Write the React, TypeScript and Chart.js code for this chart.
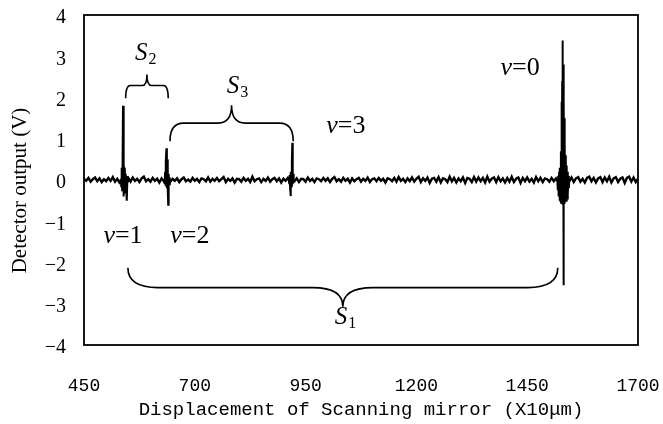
import React, { useEffect, useRef } from "react";
import { Chart, registerables } from "chart.js";

Chart.register(...registerables);

// ---------- data ----------
const xMin = 450;
const xMax = 1700;
const xStep = 250;
const yMin = -4;
const yMax = 4;
const yStep = 1;

// baseline noise (V), sampled every 5 units from 450 to 1700
const noiseStart = 450;
const noiseStep = 5;
const noiseValues = [
  0.03, -0.02, 0.05, -0.04, 0.02, 0.06, -0.03, 0.04, -0.05, 0.02,
  -0.03, 0.05, -0.02, 0.07, -0.04, 0.03, -0.06, 0.02, 0.04, -0.03,
  0.05, -0.04, 0.06, -0.02, 0.03, -0.05, 0.04, 0.08, -0.03, 0.02,
  -0.04, 0.05, -0.02, 0.03, -0.06, 0.04, -0.03, 0.02, 0.05, -0.04,
  0.03, -0.02, 0.04, -0.05, 0.02, 0.06, -0.03, 0.01, -0.04, 0.05,
  -0.02, 0.03, -0.05, 0.04, 0.02, -0.03, 0.06, -0.04, 0.03, -0.02,
  0.05, -0.03, 0.02, 0.07, -0.05, 0.03, -0.02, 0.04, -0.06, 0.03,
  0.02, -0.04, 0.05, -0.02, 0.03, -0.05, 0.08, -0.03, 0.02, 0.04,
  -0.05, 0.03, -0.02, 0.06, -0.04, 0.02, 0.05, -0.03, 0.04, -0.06,
  0.03, -0.02, 0.05, -0.04, 0.02, -0.03, 0.04, -0.05, 0.03, 0.02,
  -0.04, 0.06, -0.02, 0.03, -0.05, 0.04, 0.02, -0.03, 0.05, -0.02,
  0.04, -0.05, 0.03, 0.07, -0.03, 0.02, -0.04, 0.05, -0.02, 0.03,
  -0.06, 0.04, -0.03, 0.02, 0.05, -0.04, 0.03, -0.02, 0.06, -0.05,
  0.02, 0.04, -0.03, 0.05, -0.02, 0.03, -0.06, 0.04, 0.02, -0.03,
  0.05, -0.04, 0.07, -0.02, 0.03, -0.05, 0.04, -0.03, 0.06, -0.04,
  0.03, 0.08, -0.05, 0.04, -0.02, 0.06, -0.07, 0.03, 0.05, -0.04,
  0.07, -0.06, 0.04, 0.02, -0.05, 0.08, -0.03, 0.05, -0.06, 0.04,
  -0.03, 0.06, -0.07, 0.05, 0.03, -0.05, 0.07, -0.04, 0.06, -0.03,
  0.05, -0.06, 0.08, -0.04, 0.03, 0.06, -0.05, 0.07, -0.03, 0.04,
  -0.06, 0.05, -0.04, 0.08, -0.05, 0.03, 0.06, -0.07, 0.05, -0.03,
  0.06, -0.04, 0.03, -0.06, 0.07, -0.03, 0.05, -0.05, 0.04, 0.02,
  -0.04, 0.05, -0.03, 0.04, -0.05, 0.06, 0.0, 0.0, 0.0, -0.03,
  0.06, -0.05, 0.04, 0.07, -0.04, 0.03, -0.06, 0.05, 0.08, -0.03,
  0.05, -0.06, 0.04, 0.07, -0.05, 0.06, -0.03, 0.08, -0.06, 0.04,
  0.07, -0.05, 0.03, 0.06, -0.07, 0.05, 0.08, -0.04, 0.06, -0.05,
  0.03,
];

// v=1 interference burst
const spike1X = [533, 534, 535, 536, 537, 538, 539, 540, 541, 542, 543, 544, 545, 546, 547, 548, 549, 550];
const spike1Y = [0.02, -0.15, 0.3, -0.25, 0.4, 1.8, -0.4, 0.4, -0.3, 0.3, -0.2, 0.15, -0.1, 0.1, -0.5, 0.08, -0.06, 0.02];

// v=2 interference burst
const spike2X = [631, 632, 633, 634, 635, 636, 637, 638, 639, 640, 641, 642, 643, 644];
const spike2Y = [0.02, -0.1, 0.2, -0.15, 0.45, 0.77, -0.2, 0.5, -0.25, -0.6, 0.15, -0.1, 0.06, 0.01];

// v=3 interference burst
const spike3X = [912, 913, 914, 915, 916, 917, 918, 919, 920, 921, 922, 923, 924];
const spike3Y = [0.02, -0.08, 0.12, -0.2, -0.39, 0.2, -0.15, 0.45, 0.9, -0.1, 0.15, -0.05, 0.02];

// v=0 (zero path difference) burst
const spike0X = [
  1518, 1519, 1520, 1521, 1522, 1523, 1524, 1525, 1526,
  1526.5, 1527, 1527.5, 1528, 1528.5, 1529, 1529.5, 1530, 1530.5,
  1531, 1531.5, 1532, 1532.5, 1533, 1533.5, 1534, 1534.5, 1535,
  1536, 1537, 1538, 1539, 1540, 1541, 1542, 1543, 1544, 1545,
];
const spike0Y = [
  0.03, -0.25, 0.1, -0.4, 0.2, -0.5, 0.3, -0.5, 0.7,
  -0.55, 1.3, -0.55, 1.9, -0.5, 2.4, -0.5, 3.38, -0.6,
  2.8, -2.55, 2.5, -0.6, 2.0, -0.55, 1.5, -0.55, 0.9,
  -0.5, 0.6, -0.5, 0.35, -0.45, 0.2, -0.35, 0.1, -0.2, 0.02,
];

// braces: start x, end x, end-y, bar-y, tip-y (data units)
const braceStart = [544, 644, 549];
const braceEnd = [640, 922, 1519];
const braceEndY = [1.98, 0.94, -2.13];
const braceBarY = [2.29, 1.38, -2.61];
const braceTipY = [2.56, 1.81, -3.07];

// labels
const sLabelMain = ["S", "S", "S"];
const sLabelSub = ["2", "3", "1"];
const sLabelX = [588, 795, 1039];
const sLabelY = [3.07, 2.27, -3.33];

const vLabelNum = ["0", "3", "1", "2"];
const vLabelX = [1434, 1041, 538, 689];
const vLabelY = [2.7, 1.3, -1.35, -1.35];

const xTitle = "Displacement of Scanning mirror (X10\u03bcm)";
const yTitle = "Detector output (V)    ";

// ---------- component ----------
const serif = "'Liberation Serif', 'Times New Roman', serif";
const mono = "'Liberation Mono', 'Courier New', monospace";

function toPts(xs: number[], ys: number[]) {
  return xs.map((x, i) => ({ x, y: ys[i] }));
}

const annotationPlugin = {
  id: "annotations",
  afterDraw(chart: any) {
    const { ctx, chartArea, scales } = chart;
    const xs = scales.x;
    const ys = scales.y;
    ctx.save();
    // frame
    ctx.strokeStyle = "#000";
    ctx.lineWidth = 1.8;
    ctx.strokeRect(chartArea.left, chartArea.top, chartArea.right - chartArea.left, chartArea.bottom - chartArea.top);

    // braces
    ctx.lineWidth = 1.6;
    for (let i = 0; i < braceStart.length; i++) {
      const x1 = xs.getPixelForValue(braceStart[i]);
      const x2 = xs.getPixelForValue(braceEnd[i]);
      const yE = ys.getPixelForValue(braceEndY[i]);
      const yB = ys.getPixelForValue(braceBarY[i]);
      const yT = ys.getPixelForValue(braceTipY[i]);
      const xc = (x1 + x2) / 2;
      const r = Math.min(30, (x2 - x1) * 0.11);
      ctx.beginPath();
      ctx.moveTo(x1, yE);
      ctx.quadraticCurveTo(x1, yB, x1 + r, yB);
      ctx.lineTo(xc - r, yB);
      ctx.quadraticCurveTo(xc, yB, xc, yT);
      ctx.quadraticCurveTo(xc, yB, xc + r, yB);
      ctx.lineTo(x2 - r, yB);
      ctx.quadraticCurveTo(x2, yB, x2, yE);
      ctx.stroke();
    }

    // S labels
    ctx.fillStyle = "#000";
    ctx.textBaseline = "middle";
    ctx.textAlign = "left";
    for (let i = 0; i < sLabelMain.length; i++) {
      const px = xs.getPixelForValue(sLabelX[i]);
      const py = ys.getPixelForValue(sLabelY[i]);
      const mainFont = `italic 25px ${serif}`;
      const subFont = `16px ${serif}`;
      ctx.font = mainFont;
      const w1 = ctx.measureText(sLabelMain[i]).width;
      ctx.font = subFont;
      const w2 = ctx.measureText(sLabelSub[i]).width;
      const start = px - (w1 + w2) / 2;
      ctx.font = mainFont;
      ctx.fillText(sLabelMain[i], start, py);
      ctx.font = subFont;
      ctx.fillText(sLabelSub[i], start + w1 + 1, py + 6);
    }

    // v labels
    for (let i = 0; i < vLabelNum.length; i++) {
      const px = xs.getPixelForValue(vLabelX[i]);
      const py = ys.getPixelForValue(vLabelY[i]);
      const f1 = `italic 26px ${serif}`;
      const f2 = `26px ${serif}`;
      ctx.font = f1;
      const w1 = ctx.measureText("v").width;
      ctx.font = f2;
      const t2 = "=" + vLabelNum[i];
      const w2 = ctx.measureText(t2).width;
      const start = px - (w1 + w2) / 2;
      ctx.font = f1;
      ctx.fillText("v", start, py);
      ctx.font = f2;
      ctx.fillText(t2, start + w1, py);
    }
    ctx.restore();
  },
};

export default function App() {
  const ref = useRef<HTMLCanvasElement | null>(null);

  useEffect(() => {
    if (!ref.current) return;
    const lineStyle = {
      borderColor: "#000",
      borderWidth: 2.4,
      pointRadius: 0,
      tension: 0,
      fill: false,
    };
    const noisePts = noiseValues.map((v, i) => ({ x: noiseStart + i * noiseStep, y: v }));
    const chart = new Chart(ref.current, {
      type: "line",
      data: {
        datasets: [
          { data: noisePts, ...lineStyle },
          { data: toPts(spike1X, spike1Y), ...lineStyle, borderWidth: 2 },
          { data: toPts(spike2X, spike2Y), ...lineStyle, borderWidth: 2 },
          { data: toPts(spike3X, spike3Y), ...lineStyle, borderWidth: 2 },
          { data: toPts(spike0X, spike0Y), ...lineStyle, borderWidth: 2 },
        ],
      },
      options: {
        animation: false,
        responsive: false,
        devicePixelRatio: 1,
        layout: { padding: { top: 15, right: 25, left: 0, bottom: 0 } },
        plugins: {
          legend: { display: false },
          tooltip: { enabled: false },
        },
        scales: {
          x: {
            type: "linear",
            min: xMin,
            max: xMax,
            grid: { display: false, drawTicks: false },
            border: { display: false },
            ticks: {
              stepSize: xStep,
              autoSkip: false,
              maxRotation: 0,
              color: "#000",
              padding: 30,
              font: { family: mono, size: 18 },
              callback: (v: any) => String(v),
            },
            title: {
              display: true,
              text: xTitle,
              color: "#000",
              font: { family: mono, size: 19 },
              padding: { top: 0, bottom: 3 },
            },
            afterFit: (s: any) => {
              s.height = 79;
              s.paddingLeft = 0;
              s.paddingRight = 0;
            },
          },
          y: {
            type: "linear",
            min: yMin,
            max: yMax,
            grid: { display: false, drawTicks: false },
            border: { display: false },
            ticks: {
              stepSize: yStep,
              color: "#000",
              padding: 18,
              labelOffset: 3,
              font: { family: serif, size: 20 },
              callback: (v: any) => (Number(v) < 0 ? "\u2212" + Math.abs(Number(v)) : String(v)),
            },
            title: {
              display: true,
              text: yTitle,
              color: "#000",
              font: { family: serif, size: 21 },
              padding: { top: 8, bottom: 0 },
            },
            afterFit: (s: any) => {
              s.width = 84;
              s.paddingTop = 0;
              s.paddingBottom = 0;
            },
          },
        },
      },
      plugins: [annotationPlugin],
    });
    return () => chart.destroy();
  }, []);

  return (
    <div style={{ position: "absolute", left: 0, top: 0, width: 663, height: 424, background: "#fff" }}>
      <canvas ref={ref} width={663} height={424} style={{ display: "block" }} />
    </div>
  );
}
